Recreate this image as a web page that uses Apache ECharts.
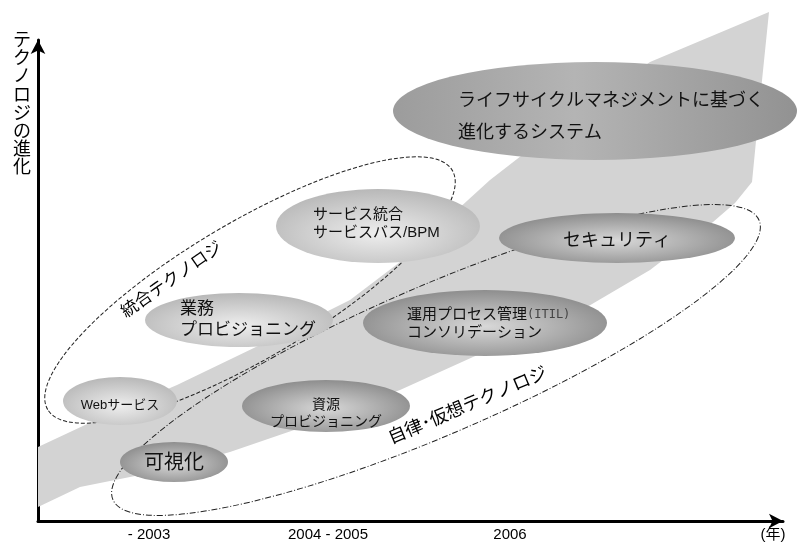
<!DOCTYPE html>
<html><head><meta charset="utf-8">
<script src="https://cdn.jsdelivr.net/npm/echarts@6/dist/echarts.min.js"></script>
<style>html,body{margin:0;padding:0;background:#fff}#c{width:797px;height:547px}</style>
</head><body><div id="c"></div>
<script>
// ---- data (x: time progression, y: technology evolution; arbitrary units) ----
const xTickValues = [111, 290, 472, 735];
const xTickLabels = ['- 2003', '2004 - 2005', '2006', '(年)'];
const yAxisTitle = 'テクノロジの進化';

// evolution band outline
const bandUpper = [[0,74],[62,103],[139,136],[222,176],[312,221],[362,259],[452,341],[532,403],[612,459],[731,509]];
const bandLower = [[722,421],[714,339],[697,318],[675,299],[642,274],[612,251],[549,214],[492,188],[435,164],[362,131],[262,93],[192,69],[127,51],[42,34],[0,14]];

// technology bubbles
const bubbleLabels = [
  'ライフサイクルマネジメントに基づく\n進化するシステム',
  'サービス統合\nサービスバス/BPM',
  'セキュリティ',
  '{a|運用プロセス管理}{b|(ITIL)}\n{a|コンソリデーション}',
  '業務\nプロビジョニング',
  'Webサービス',
  '可視化',
  '資源\nプロビジョニング'
];
const bubbleX  = [557, 340, 579, 447, 201,  82, 136, 288];
const bubbleY  = [410, 295, 283, 198, 201, 120,  59, 115];
const bubbleRX = [202, 102, 118, 122,  94,  57,  54,  84];
const bubbleRY = [ 49,  37,  25,  33,  27,  24,  20,  26];

// technology groups
const groupNames = ['統合テクノロジ', '自律･仮想テクノロジ'];
const groupX  = [212, 398];
const groupY  = [231, 161];
const groupA  = [235, 352];
const groupB  = [ 68,  74];
const groupAngle = [30.6, 23.4];
const groupLabelX = [134, 430];
const groupLabelY = [241, 115];
const groupLabelAngle = [35, 23];

// ---- styles ----
const FONT = '"Liberation Sans","Noto Sans CJK JP",sans-serif';
const fills = {
  big: {type:'linear', x:0, y:0, x2:1, y2:0, colorStops:[{offset:0,color:'#9c9c9c'},{offset:0.45,color:'#b4b4b4'},{offset:1,color:'#929292'}]},
  light: {type:'radial', x:0.5, y:0.6, r:0.62, colorStops:[{offset:0,color:'#eeeeee'},{offset:1,color:'#b6b6b6'}]},
  dark: {type:'radial', x:0.5, y:0.55, r:0.6, colorStops:[{offset:0,color:'#d8d8d8'},{offset:1,color:'#878787'}]}
};
const bubbleStyle = [
  {fill:'big',   size:18, lh:32, align:'left',   dx:-137, dy:6},
  {fill:'light', size:15, lh:18, align:'left',   dx:-65,  dy:-2},
  {fill:'dark',  size:18, lh:20, align:'center', dx:0,    dy:3},
  {fill:'dark',  size:15, lh:18, align:'left',   dx:-78,  dy:1},
  {fill:'light', size:17, lh:21, align:'left',   dx:-59,  dy:0},
  {fill:'light', size:13, lh:16, align:'center', dx:0,    dy:4},
  {fill:'dark',  size:20, lh:22, align:'center', dx:0,    dy:1},
  {fill:'dark',  size:14, lh:17, align:'center', dx:0,    dy:8}
];
const groupDash = [[4,2],[6,2,1,2]];

const chart = echarts.init(document.getElementById('c'), null, {renderer:'canvas'});
const axisLine = {show:true, symbol:['none','arrow'], symbolSize:[11,14], lineStyle:{color:'#000', width:3}};
chart.setOption({
  animation:false,
  backgroundColor:'#fff',
  grid:{left:38, right:14, top:40, bottom:26, containLabel:false},
  xAxis:{type:'value', min:0, max:745, axisLine:axisLine, axisTick:{show:false}, splitLine:{show:false},
    axisLabel:{customValues:xTickValues, formatter:(v)=>{const i=xTickValues.indexOf(v);return i>=0?xTickLabels[i]:'';},
      fontFamily:FONT, fontSize:15, color:'#000', margin:6}},
  yAxis:{type:'value', min:0, max:481, axisLine:axisLine, axisTick:{show:false}, splitLine:{show:false}, axisLabel:{show:false}},
  graphic:[{type:'text', x:22, y:32, style:{text:yAxisTitle.split('').join('\n'), font:'18px '+FONT, lineHeight:18.2, align:'center', verticalAlign:'top', fill:'#000'}}],
  series:[
    {type:'custom', name:'band', data:[[0,0]], silent:true,
      renderItem:(params, api)=>{
        const pts = bandUpper.concat(bandLower).map(p=>api.coord(p));
        return {type:'polygon', shape:{points:pts}, style:{fill:'#d3d3d3'}};
      }},
    {type:'custom', name:'groups', data:groupNames.map((n,i)=>[groupX[i],groupY[i],groupA[i],groupB[i]]), silent:true,
      renderItem:(params, api)=>{
        const i = params.dataIndex;
        const c = api.coord([api.value(0), api.value(1)]);
        const s = api.size([api.value(2), api.value(3)]);
        return {type:'ellipse', x:c[0], y:c[1], rotation:groupAngle[i]*Math.PI/180,
          shape:{cx:0, cy:0, rx:s[0], ry:s[1]},
          style:{fill:null, stroke:'#222', lineWidth:1, lineDash:groupDash[i]}};
      }},
    {type:'custom', name:'bubbles', data:bubbleLabels.map((n,i)=>[bubbleX[i],bubbleY[i],bubbleRX[i],bubbleRY[i]]), silent:true,
      renderItem:(params, api)=>{
        const i = params.dataIndex;
        const st = bubbleStyle[i];
        const c = api.coord([api.value(0), api.value(1)]);
        const s = api.size([api.value(2), api.value(3)]);
        return {type:'group', children:[
          {type:'circle', x:c[0], y:c[1], scaleX:s[0]/s[1], scaleY:1, shape:{cx:0, cy:0, r:s[1]}, style:{fill:fills[st.fill]}},
          {type:'text', x:c[0]+st.dx, y:c[1]+st.dy, style:{text:bubbleLabels[i], font:st.size+'px '+FONT, fontSize:st.size, fontFamily:FONT,
            lineHeight:st.lh, align:st.align, verticalAlign:'middle', fill:'#111',
            rich:{a:{fontSize:st.size, fontFamily:FONT, lineHeight:st.lh, fill:'#111'}, b:{fontSize:12, fontFamily:'"DejaVu Sans Mono",monospace', fill:'#444', lineHeight:st.lh}}}}
        ]};
      }},
    {type:'custom', name:'groupLabels', data:groupNames.map((n,i)=>[groupLabelX[i],groupLabelY[i]]), silent:true,
      renderItem:(params, api)=>{
        const i = params.dataIndex;
        const c = api.coord([api.value(0), api.value(1)]);
        return {type:'text', x:c[0], y:c[1], rotation:groupLabelAngle[i]*Math.PI/180,
          style:{text:groupNames[i], font:(i===0?17:18)+'px '+FONT, align:'center', verticalAlign:'middle', fill:'#000'}};
      }}
  ]
});
</script></body></html>
